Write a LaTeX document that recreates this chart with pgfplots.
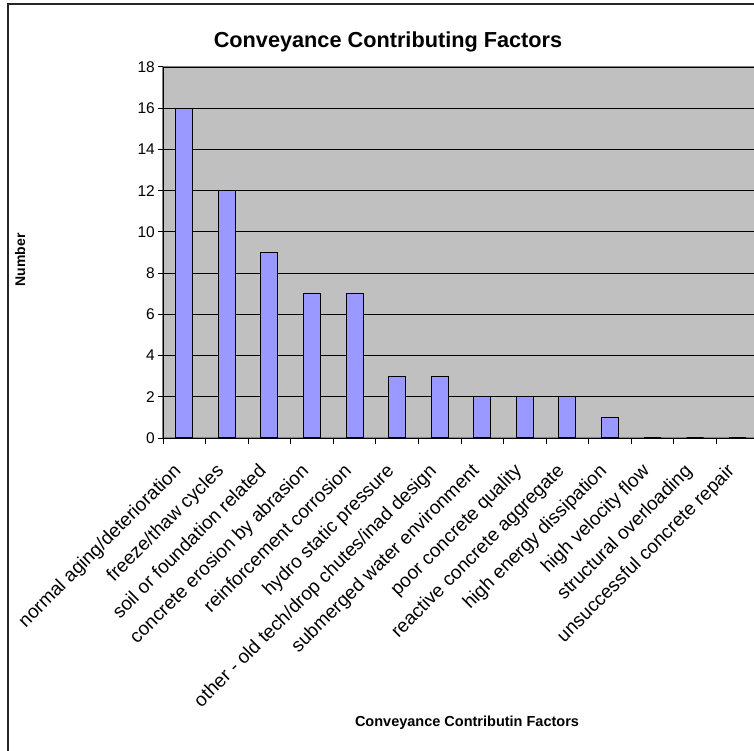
\documentclass[border=0pt]{standalone}
\usepackage{fontspec}
\setmainfont{Liberation Sans}
\usepackage{pgfplots}
\pgfplotsset{compat=1.18}
\definecolor{plotgray}{HTML}{C0C0C0}
\definecolor{barblue}{HTML}{9999FF}
\begin{document}
\begin{tikzpicture}[x=1pt,y=1pt]
\path[use as bounding box] (0,0) rectangle (754,750);
\clip (0,0) rectangle (754,750);
\draw[line width=1.5pt, black!85] (8,-5) -- (8,746) -- (760,746);
\begin{axis}[
  at={(163pt,312pt)}, anchor=south west,
  scale only axis, width=596pt, height=371pt,
  xmin=0.5, xmax=14.5, ymin=0, ymax=18,
  axis background/.style={fill=plotgray, draw=gray, line width=1.2pt},
  axis x line*=bottom, axis y line*=left,
  axis line style={black, line width=1pt, -},
  ytick={0,2,...,18},
  ymajorgrids, major grid style={black, line width=0.8pt},
  tick align=outside,
  major tick length=5pt,
  tick style={black, line width=1pt},
  xtick={1,...,14},
  x tick style={draw=none},
  minor xtick={0.5,1.5,...,14.5},
  minor x tick style={draw=black, line width=1pt},
  minor tick length=6pt,
  xticklabels={normal aging/deterioration, freeze/thaw cycles, soil or foundation related, concrete erosion by abrasion, reinforcement corrosion, hydro static pressure, other - old tech/drop chutes/inad design, submerged water environment, poor concrete quality, reactive concrete aggregate, high energy dissipation, high velocity flow, structural overloading, unsuccessful concrete repair},
  xticklabel style={rotate=45, anchor=north east, font=\fontsize{19}{21}\selectfont, inner sep=0pt, xshift=-22pt, yshift=-5pt},
  yticklabel style={font=\fontsize{15.5}{17}\selectfont, inner sep=3pt},
  /pgf/number format/assume math mode=true,
  ybar, bar width=17pt,
]
\addplot[fill=barblue, draw=black, line width=1.1pt] coordinates {
  (1,16) (2,12) (3,9) (4,7) (5,7) (6,3) (7,3) (8,2) (9,2) (10,2) (11,1) (12,0) (13,0) (14,0)
};
\end{axis}
\node[font=\fontsize{21.7}{24}\selectfont\bfseries] at (388,708) {Conveyance Contributing Factors};
\node[font=\fontsize{14}{16}\selectfont\bfseries, rotate=90] at (20,490) {Number};
\node[font=\fontsize{14.5}{16}\selectfont\bfseries] at (467,27) {Conveyance Contributin Factors};
\end{tikzpicture}
\end{document}
